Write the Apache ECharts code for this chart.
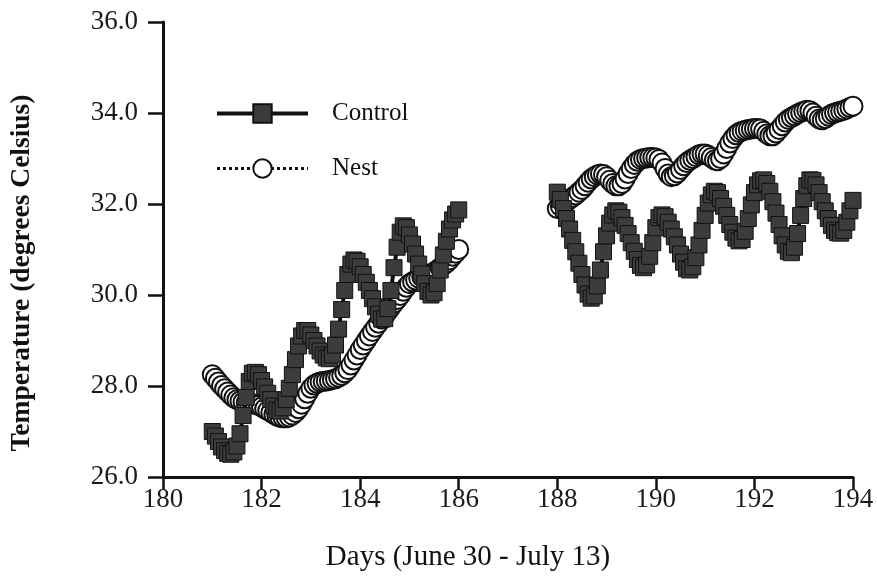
<!DOCTYPE html>
<html>
<head>
<meta charset="utf-8">
<script src="https://cdn.jsdelivr.net/npm/echarts@6/dist/echarts.min.js"></script>
<style>
html,body{margin:0;padding:0;background:#fff;}
#chart{width:877px;height:578px;}
</style>
</head>
<body>
<div id="chart"></div>
<script>
// ---- data ----
var xTicks = [180, 182, 184, 186, 188, 190, 192, 194];
var yTicks = [26.0, 28.0, 30.0, 32.0, 34.0, 36.0];
var seriesNames = ['Control', 'Nest'];
// sampling: 16 readings per day
var seg1Start = 181.0;
var seg2Start = 188.0;
var stepDays = 1 / 16;

var control1 = [
27.00,26.90,26.78,26.66,26.58,26.52,26.50,26.55,26.68,26.95,27.35,27.75,28.10,28.28,28.30,28.25,
28.12,27.98,27.84,27.70,27.56,27.47,27.45,27.52,27.70,27.95,28.25,28.58,28.88,29.10,29.22,29.22,
29.12,29.00,28.88,28.77,28.68,28.62,28.60,28.68,28.90,29.25,29.68,30.10,30.45,30.68,30.77,30.74,
30.62,30.45,30.28,30.10,29.92,29.74,29.58,29.47,29.48,29.70,30.10,30.60,31.05,31.38,31.52,31.48,
31.32,31.12,30.90,30.68,30.46,30.25,30.08,30.00,30.05,30.25,30.55,30.88,31.18,31.45,31.65,31.78,
31.87];
var nest1 = [
28.25,28.17,28.09,28.01,27.94,27.87,27.80,27.74,27.70,27.67,27.65,27.63,27.62,27.61,27.60,27.57,
27.54,27.50,27.46,27.42,27.38,27.34,27.31,27.30,27.30,27.32,27.36,27.42,27.50,27.60,27.72,27.84,
27.95,28.02,28.06,28.09,28.10,28.11,28.12,28.14,28.16,28.19,28.23,28.29,28.36,28.46,28.57,28.68,
28.80,28.90,29.00,29.10,29.20,29.29,29.38,29.47,29.55,29.64,29.73,29.82,29.90,29.99,30.08,30.17,
30.25,30.29,30.33,30.37,30.40,30.42,30.45,30.47,30.50,30.55,30.60,30.65,30.70,30.77,30.85,30.92,
31.00];
var control2 = [
32.26,32.10,31.90,31.68,31.45,31.20,30.95,30.70,30.45,30.22,30.02,29.93,29.98,30.20,30.55,30.95,
31.30,31.58,31.76,31.85,31.82,31.70,31.53,31.35,31.15,30.96,30.78,30.65,30.60,30.66,30.85,31.15,
31.48,31.70,31.76,31.72,31.60,31.45,31.28,31.10,30.90,30.72,30.58,30.55,30.62,30.82,31.10,31.42,
31.75,32.02,32.20,32.28,32.25,32.12,31.95,31.75,31.55,31.38,31.25,31.19,31.22,31.40,31.68,31.98,
32.25,32.42,32.51,32.53,32.45,32.28,32.05,31.80,31.55,31.30,31.10,30.96,30.93,31.05,31.35,31.75,
32.12,32.40,32.53,32.52,32.42,32.25,32.05,31.85,31.68,31.53,31.42,31.37,31.36,31.42,31.60,31.85,
32.08];
var nest2 = [
31.90,31.95,32.00,32.05,32.10,32.15,32.20,32.26,32.32,32.40,32.48,32.55,32.60,32.64,32.66,32.65,
32.60,32.52,32.45,32.40,32.40,32.45,32.55,32.67,32.78,32.87,32.94,32.98,33.00,33.01,33.02,33.02,
33.01,32.98,32.90,32.78,32.66,32.60,32.62,32.68,32.76,32.84,32.91,32.96,33.00,33.04,33.08,33.10,
33.10,33.07,33.02,32.97,32.95,33.00,33.10,33.22,33.34,33.44,33.52,33.57,33.60,33.62,33.64,33.65,
33.66,33.66,33.65,33.60,33.54,33.50,33.50,33.56,33.64,33.72,33.80,33.86,33.90,33.94,33.98,34.01,
34.04,34.06,34.05,34.00,33.93,33.87,33.85,33.88,33.93,33.97,34.00,34.02,34.04,34.06,34.09,34.12,
34.15];

// ---- build series data (gap between the two recording periods) ----
function pairs(start, vals) {
  return vals.map(function (v, i) { return [start + i * stepDays, v]; });
}
function joined(a, b) {
  return pairs(seg1Start, a).concat([[187, null]]).concat(pairs(seg2Start, b));
}

var FONT = '"Liberation Serif", "Times New Roman", serif';
var chart = echarts.init(document.getElementById('chart'), null, {renderer: 'canvas'});
chart.setOption({
  animation: false,
  backgroundColor: '#ffffff',
  grid: {left: 163, right: 24, top: 22, bottom: 101, containLabel: false},
  legend: {
    data: [
      {name: seriesNames[0], lineStyle: {width: 4, color: '#111'}},
      {name: seriesNames[1], lineStyle: {width: 3, type: 'dotted', color: '#111'}}
    ],
    orient: 'vertical',
    left: 215,
    top: 101,
    padding: 0,
    itemWidth: 91,
    itemHeight: 23,
    itemGap: 30,
    textStyle: {fontFamily: FONT, fontSize: 25, color: '#111', padding: [0, 0, 0, 19]},
    selectedMode: false
  },
  xAxis: {
    type: 'value',
    min: xTicks[0],
    max: xTicks[xTicks.length - 1],
    interval: 2,
    axisLine: {show: true, onZero: false, lineStyle: {color: '#111', width: 3}},
    axisTick: {show: true, inside: false, length: 13, lineStyle: {color: '#111', width: 2.5}},
    axisLabel: {fontFamily: FONT, fontSize: 27, color: '#1a1a1a', margin: 9},
    splitLine: {show: false}
  },
  yAxis: {
    type: 'value',
    min: yTicks[0],
    max: yTicks[yTicks.length - 1],
    interval: 2,
    axisLine: {show: true, onZero: false, lineStyle: {color: '#111', width: 3}},
    axisTick: {show: true, inside: false, length: 15, lineStyle: {color: '#111', width: 2.5}},
    axisLabel: {fontFamily: FONT, fontSize: 27, color: '#1a1a1a', margin: 25,
      formatter: function (v) { return v.toFixed(1); }},
    splitLine: {show: false}
  },
  graphic: [
    {type: 'text', x: 22, y: 273, rotation: Math.PI / 2,
      style: {text: 'Temperature (degrees Celsius)', fontFamily: FONT, fontWeight: 'bold', fontSize: 27.5,
        fill: '#111', align: 'center', verticalAlign: 'middle'}},
    {type: 'text', x: 468, y: 557,
      style: {text: 'Days (June 30 - July 13)', fontFamily: FONT, fontSize: 29,
        fill: '#111', align: 'center', verticalAlign: 'middle'}}
  ],
  series: [
    {
      name: seriesNames[1],
      type: 'line',
      z: 2,
      data: joined(nest1, nest2),
      connectNulls: false,
      symbol: 'circle',
      symbolSize: 19,
      showAllSymbol: true,
      lineStyle: {color: '#111', width: 3, type: 'dotted'},
      itemStyle: {color: '#ffffff', borderColor: '#111', borderWidth: 2},
      emphasis: {disabled: true}
    },
    {
      name: seriesNames[0],
      type: 'line',
      z: 3,
      data: joined(control1, control2),
      connectNulls: false,
      symbol: 'rect',
      symbolSize: 16,
      showAllSymbol: true,
      lineStyle: {color: '#111', width: 4},
      itemStyle: {color: '#3c3c3c', borderColor: '#111', borderWidth: 1},
      emphasis: {disabled: true}
    }
  ]
});
</script>
</body>
</html>
